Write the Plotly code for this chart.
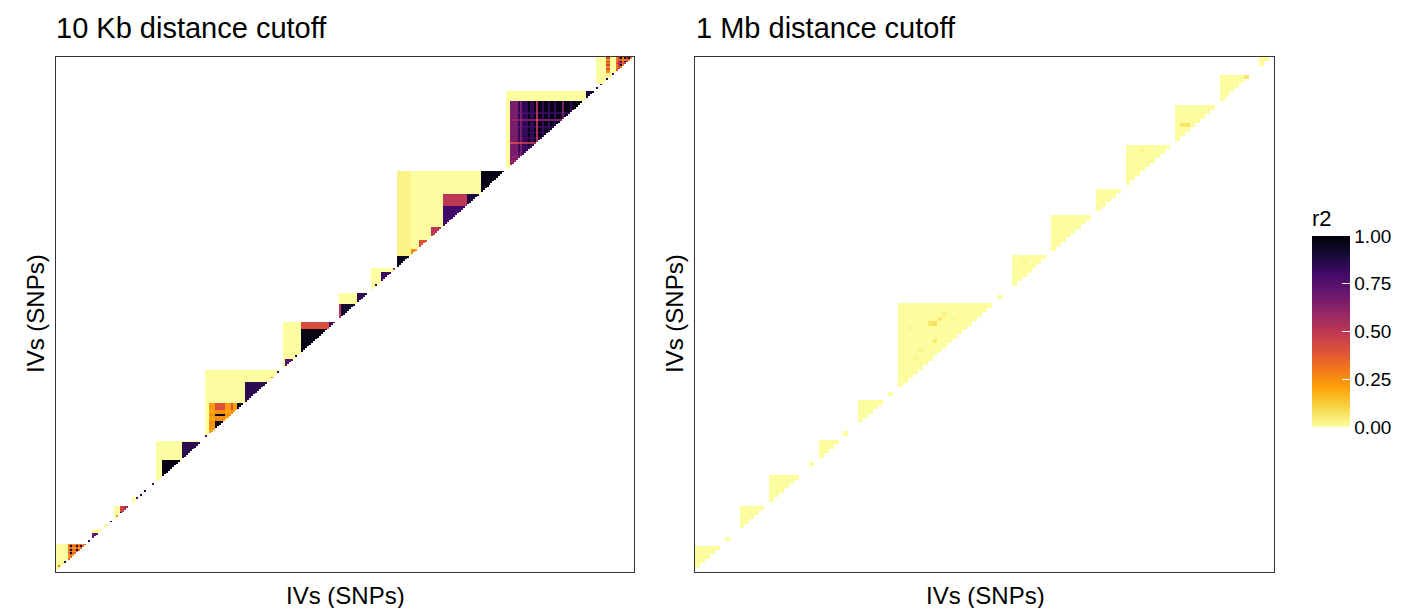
import numpy as np
import plotly.graph_objects as go

# ---------------- data ----------------
N_10KB = 290
N_1MB = 117

# inferno (reversed later so that r2 = 0 is pale yellow)
INFERNO = ["#000004", "#160b39", "#420a68", "#6a176e", "#932667", "#bc3754",
           "#dd513a", "#f37819", "#fca50a", "#f6d746", "#fcffa4"]

# LD blocks of the 10 Kb panel: first SNP index, group label per SNP,
# r2 between groups (pairs not listed get the background value)
blocks_10kb = [
    {"start": 0, "labels": "yoyokkOKOOKOKOKO",
     "r2": {"oo": 0.3, "kk": 0.9, "OO": 0.22, "OK": 0.35, "KK": 0.9}},
    {"start": 16, "labels": "PP", "r2": {"PP": 0.8}},
    {"start": 18, "labels": "PPPPyy", "r2": {"PP": 0.7}},
    {"start": 24, "labels": "yyy", "r2": {}},
    {"start": 27, "labels": "KK", "r2": {"KK": 0.95}},
    {"start": 29, "labels": "yooKKRRR",
     "r2": {"oo": 0.25, "KK": 0.85, "RR": 0.55, "KR": 0.45}},
    {"start": 38, "labels": "yyKK", "r2": {"KK": 0.8}},
    {"start": 42, "labels": "KK", "r2": {"KK": 0.9}},
    {"start": 44, "labels": "KK", "r2": {"KK": 0.9}},
    {"start": 48, "labels": "PP", "r2": {"PP": 0.75}},
    {"start": 50, "labels": "yyyKKKKKKKKKKPPPPPPPPPPy",
     "r2": {"KK": 0.97, "PP": 0.85}},
    {"start": 75, "labels": "qqOOOKKKKKOOOKOOBBBBPPPPPPPPPPPPyooykky",
     "r2": {"qq": 0.8, "OO": 0.2, "KO": 0.25, "KK": 0.95, "BO": 0.22,
            "BK": 0.4, "BB": 0.95, "PP": 0.85, "oo": 0.3, "kk": 0.9}},
    {"start": 114, "labels": "yQQQQQkkyKKKKKKKKKKKKKKPPPP",
     "r2": {"QQ": 0.75, "kk": 0.92, "KK": 0.97, "PP": 0.8, "KP": 0.42}},
    {"start": 142, "labels": "RKKKKKKKKPPPPPP",
     "r2": {"KK": 0.92, "PP": 0.85, "RK": 0.5}},
    {"start": 158, "labels": "yykkyPPPPPPRR",
     "r2": {"kk": 0.95, "PP": 0.82, "RR": 0.5}},
    {"start": 171,
     "labels": "BBBBBBBoooorrrrryRRRRRRPPPPPPPPPPPPQQQQQQQKKKKKKKKKKKKK",
     "r2": {"BB": 0.95, "oo": 0.25, "rr": 0.4, "RR": 0.5, "PP": 0.8,
            "QQ": 0.88, "PQ": 0.5, "KK": 0.97, "By": 0.03, "Bo": 0.03,
            "Br": 0.03, "BR": 0.03, "BP": 0.03, "BQ": 0.03, "BK": 0.03}},
    {"start": 226,
     "labels": "yyRRRRPRPPPKPPKOKKPKKPKKPKKKRKKKPKKKKKKyBBBBB",
     "r2": {"RR": 0.6, "RP": 0.66, "RK": 0.66, "PP": 0.8, "PK": 0.84,
            "KK": 0.97, "BB": 0.9, "OO": 0.45, "OK": 0.55, "OP": 0.52,
            "OR": 0.45}},
    {"start": 271, "labels": "aabbykkyppORKOKRKOK",
     "r2": {"aa": 0.9, "bb": 0.85, "ab": None, "kk": 0.85, "pp": 0.8,
            "OO": 0.3, "OR": 0.4, "OK": 0.28, "RR": 0.55, "RK": 0.5,
            "KK": 0.95, "kO": 0.25, "kR": 0.3, "kK": 0.45}},
]
background_10kb = 0.004

# LD blocks of the 1 Mb panel: (first SNP, last SNP)
blocks_1mb = [(0, 5), (6, 7), (9, 14), (15, 21), (23, 24), (25, 29),
              (30, 31), (33, 38), (39, 40), (41, 60), (61, 62), (64, 71),
              (72, 80), (81, 86), (87, 96), (97, 105), (106, 112),
              (114, 116)]
background_1mb = 0.006
# slightly stronger cells: (SNP i, SNP j, r2)
spots_1mb = [(47, 56, 0.06), (48, 56, 0.08), (49, 57, 0.05), (48, 52, 0.06),
             (45, 50, 0.03), (98, 101, 0.06), (99, 101, 0.07),
             (111, 112, 0.06), (50, 58, 0.03), (43, 55, 0.025),
             (44, 48, 0.02), (52, 57, 0.02), (66, 70, 0.02), (90, 95, 0.02)]

panel_titles = ["10 Kb distance cutoff", "1 Mb distance cutoff"]
axis_title = "IVs (SNPs)"
legend_title = "r2"
legend_ticks = [0.0, 0.25, 0.5, 0.75, 1.0]
legend_labels = ["0.00", "0.25", "0.50", "0.75", "1.00"]


# ---------------- build matrices ----------------
def ld_matrix(n, blocks, bg):
    z = np.full((n, n), np.nan)
    for blk in blocks:
        s, lab, table = blk["start"], blk["labels"], blk["r2"]
        for a in range(len(lab)):
            for b in range(a + 1, len(lab)):
                k1, k2 = lab[a] + lab[b], lab[b] + lab[a]
                if k1 in table:
                    v = table[k1]
                elif k2 in table:
                    v = table[k2]
                else:
                    v = bg
                z[s + b, s + a] = np.nan if v is None else v
    return z


z_left = ld_matrix(N_10KB, blocks_10kb, background_10kb)

z_right = np.full((N_1MB, N_1MB), np.nan)
for s, e in blocks_1mb:
    for a in range(s, e + 1):
        for b in range(a + 1, e + 1):
            z_right[b, a] = background_1mb
for i, j, v in spots_1mb:
    z_right[j, i] = v

colorscale = [[1 - k / 10, c] for k, c in enumerate(INFERNO)][::-1]

# ---------------- figure ----------------
W, H = 1403, 608
fig = go.Figure()
fig.add_trace(go.Heatmap(z=z_left, x=list(range(N_10KB)), y=list(range(N_10KB)),
                         coloraxis="coloraxis", xaxis="x", yaxis="y",
                         hoverongaps=False))
fig.add_trace(go.Heatmap(z=z_right, x=list(range(N_1MB)), y=list(range(N_1MB)),
                         coloraxis="coloraxis", xaxis="x2", yaxis="y2",
                         hoverongaps=False))


def px_x(v):
    return v / W


def px_y(v):
    return 1 - v / H


axis_common = dict(showticklabels=False, ticks="", showgrid=False,
                   zeroline=False, showline=True, mirror=True,
                   linecolor="#333333", linewidth=1)

fig.update_layout(
    width=W, height=H,
    margin=dict(l=0, r=0, t=0, b=0, autoexpand=False),
    paper_bgcolor="white", plot_bgcolor="white",
    font=dict(family="Liberation Sans, Arial, sans-serif", color="black"),
    xaxis=dict(domain=[px_x(56), px_x(634)], range=[-0.5, N_10KB - 0.5],
               anchor="y", **axis_common),
    yaxis=dict(domain=[px_y(572), px_y(57)], range=[-0.5, N_10KB - 0.5],
               anchor="x", **axis_common),
    xaxis2=dict(domain=[px_x(695), px_x(1274)], range=[-0.5, N_1MB - 0.5],
                anchor="y2", **axis_common),
    yaxis2=dict(domain=[px_y(572), px_y(57)], range=[-0.5, N_1MB - 0.5],
                anchor="x2", **axis_common),
    coloraxis=dict(
        colorscale=colorscale, cmin=0, cmax=1,
        colorbar=dict(
            x=px_x(1312), xanchor="left", y=px_y(316.5), yanchor="middle",
            xpad=0, ypad=0,
            thickness=38, thicknessmode="pixels", len=221, lenmode="pixels",
            outlinewidth=0, tickvals=legend_ticks, ticktext=legend_labels,
            ticks="inside", ticklen=8, tickcolor="white", tickwidth=1,
            tickfont=dict(size=19, color="black"),
            title=dict(text=legend_title, side="top",
                       font=dict(size=22, color="black")),
        ),
    ),
    showlegend=False,
)

annotations = [
    dict(text=panel_titles[0], x=px_x(54), y=px_y(28), xanchor="left",
         yanchor="middle", font=dict(size=29)),
    dict(text=panel_titles[1], x=px_x(694), y=px_y(28), xanchor="left",
         yanchor="middle", font=dict(size=29)),
    dict(text=axis_title, x=px_x(345), y=px_y(595), xanchor="center",
         yanchor="middle", font=dict(size=24)),
    dict(text=axis_title, x=px_x(985), y=px_y(595), xanchor="center",
         yanchor="middle", font=dict(size=24)),
    dict(text=axis_title, x=px_x(35), y=px_y(314), xanchor="center",
         yanchor="middle", textangle=-90, font=dict(size=24)),
    dict(text=axis_title, x=px_x(674), y=px_y(314), xanchor="center",
         yanchor="middle", textangle=-90, font=dict(size=24)),
]
for a in annotations:
    a.update(xref="paper", yref="paper", showarrow=False)
fig.update_layout(annotations=annotations)

fig.write_html("out.html")
